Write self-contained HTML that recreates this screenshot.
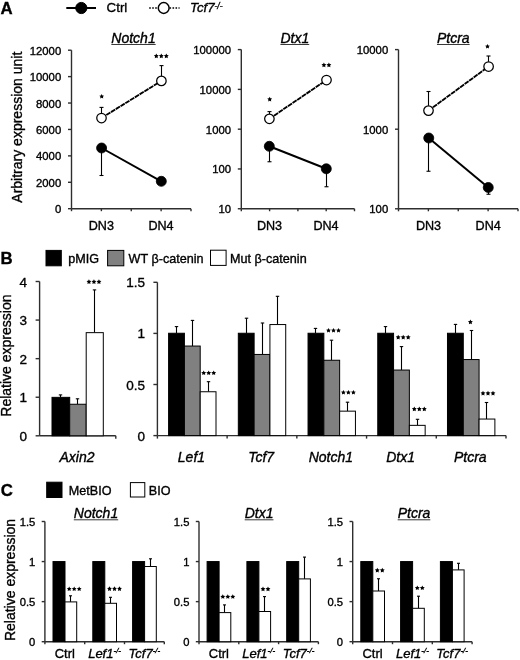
<!DOCTYPE html>
<html><head><meta charset="utf-8"><style>
html,body{margin:0;padding:0;background:#fff;}
svg{display:block;will-change:transform;}
text{font-family:"Liberation Sans", sans-serif;stroke:#000;stroke-width:0.35px;}
</style></head><body>
<svg width="520" height="660" viewBox="0 0 520 660">
<rect width="520" height="660" fill="#fff"/>
<text x="0.60" y="13.90" font-size="16.8" text-anchor="start" font-weight="bold" font-style="normal" fill="#000" >A</text>
<line x1="66.30" y1="8.00" x2="96.00" y2="8.00" stroke="#000" stroke-width="2" />
<circle cx="81.30" cy="8.00" r="5.6" fill="#000" stroke="#000" stroke-width="1"/>
<text x="106.60" y="12.00" font-size="13.3" text-anchor="start" font-weight="normal" font-style="normal" fill="#000" >Ctrl</text>
<line x1="149.20" y1="8.00" x2="158.00" y2="8.00" stroke="#000" stroke-width="1.6" stroke-dasharray="1.6,1.4"/>
<line x1="169.50" y1="8.00" x2="179.60" y2="8.00" stroke="#000" stroke-width="1.6" stroke-dasharray="1.6,1.4"/>
<circle cx="163.70" cy="8.00" r="5.4" fill="#fff" stroke="#000" stroke-width="1.5"/>
<text x="190.00" y="12.40" font-size="13.3" text-anchor="start" font-weight="normal" font-style="italic" fill="#000" >Tcf7</text>
<text x="214.50" y="8.50" font-size="8.5" text-anchor="start" font-weight="normal" font-style="italic" fill="#000" >-/-</text>
<line x1="71.50" y1="50.20" x2="71.50" y2="208.70" stroke="#2e2e2e" stroke-width="1.4" />
<line x1="68.00" y1="50.20" x2="71.50" y2="50.20" stroke="#2e2e2e" stroke-width="1.4" />
<text x="61.20" y="54.70" font-size="11.3" text-anchor="end" font-weight="normal" font-style="normal" fill="#000" >12000</text>
<line x1="68.00" y1="76.62" x2="71.50" y2="76.62" stroke="#2e2e2e" stroke-width="1.4" />
<text x="61.20" y="81.12" font-size="11.3" text-anchor="end" font-weight="normal" font-style="normal" fill="#000" >10000</text>
<line x1="68.00" y1="103.03" x2="71.50" y2="103.03" stroke="#2e2e2e" stroke-width="1.4" />
<text x="61.20" y="107.53" font-size="11.3" text-anchor="end" font-weight="normal" font-style="normal" fill="#000" >8000</text>
<line x1="68.00" y1="129.45" x2="71.50" y2="129.45" stroke="#2e2e2e" stroke-width="1.4" />
<text x="61.20" y="133.95" font-size="11.3" text-anchor="end" font-weight="normal" font-style="normal" fill="#000" >6000</text>
<line x1="68.00" y1="155.87" x2="71.50" y2="155.87" stroke="#2e2e2e" stroke-width="1.4" />
<text x="61.20" y="160.37" font-size="11.3" text-anchor="end" font-weight="normal" font-style="normal" fill="#000" >4000</text>
<line x1="68.00" y1="182.28" x2="71.50" y2="182.28" stroke="#2e2e2e" stroke-width="1.4" />
<text x="61.20" y="186.78" font-size="11.3" text-anchor="end" font-weight="normal" font-style="normal" fill="#000" >2000</text>
<line x1="68.00" y1="208.70" x2="71.50" y2="208.70" stroke="#2e2e2e" stroke-width="1.4" />
<text x="61.20" y="213.20" font-size="11.3" text-anchor="end" font-weight="normal" font-style="normal" fill="#000" >0</text>
<line x1="71.50" y1="208.70" x2="191.00" y2="208.70" stroke="#2e2e2e" stroke-width="1.4" />
<line x1="71.50" y1="208.70" x2="71.50" y2="211.20" stroke="#2e2e2e" stroke-width="1.4" />
<line x1="101.38" y1="208.70" x2="101.38" y2="211.20" stroke="#2e2e2e" stroke-width="1.4" />
<line x1="131.25" y1="208.70" x2="131.25" y2="211.20" stroke="#2e2e2e" stroke-width="1.4" />
<line x1="161.12" y1="208.70" x2="161.12" y2="211.20" stroke="#2e2e2e" stroke-width="1.4" />
<line x1="191.00" y1="208.70" x2="191.00" y2="211.20" stroke="#2e2e2e" stroke-width="1.4" />
<text x="101.30" y="230.20" font-size="12.6" text-anchor="middle" font-weight="normal" font-style="normal" fill="#000" >DN3</text>
<text x="161.00" y="230.20" font-size="12.6" text-anchor="middle" font-weight="normal" font-style="normal" fill="#000" >DN4</text>
<text x="133.50" y="42.60" font-size="14" text-anchor="middle" font-weight="normal" font-style="italic" fill="#000" >Notch1</text>
<line x1="111.32" y1="44.50" x2="155.68" y2="44.50" stroke="#222" stroke-width="0.9" />
<line x1="101.50" y1="148.00" x2="101.50" y2="175.50" stroke="#000" stroke-width="1.1" />
<line x1="99.50" y1="175.50" x2="103.50" y2="175.50" stroke="#000" stroke-width="1.1" />
<line x1="101.50" y1="118.00" x2="101.50" y2="107.40" stroke="#000" stroke-width="1.1" />
<line x1="99.50" y1="107.40" x2="103.50" y2="107.40" stroke="#000" stroke-width="1.1" />
<line x1="161.50" y1="80.90" x2="161.50" y2="65.60" stroke="#000" stroke-width="1.1" />
<line x1="159.50" y1="65.60" x2="163.50" y2="65.60" stroke="#000" stroke-width="1.1" />
<line x1="101.60" y1="148.00" x2="161.30" y2="181.30" stroke="#000" stroke-width="2.0" />
<line x1="101.50" y1="118.00" x2="161.40" y2="80.90" stroke="#000" stroke-width="1.85" stroke-dasharray="4.9,0.7"/>
<circle cx="101.60" cy="148.00" r="5.0" fill="#000" stroke="#000" stroke-width="0.8"/>
<circle cx="161.30" cy="181.30" r="5.0" fill="#000" stroke="#000" stroke-width="0.8"/>
<circle cx="101.50" cy="118.00" r="4.75" fill="#fff" stroke="#000" stroke-width="1.25"/>
<circle cx="161.40" cy="80.90" r="4.75" fill="#fff" stroke="#000" stroke-width="1.25"/>
<polygon points="101.70,93.90 102.46,95.40 104.13,95.66 102.94,96.85 103.20,98.51 101.70,97.75 100.20,98.51 100.46,96.85 99.27,95.66 100.94,95.40" fill="#000"/>
<polygon points="156.30,53.60 157.06,55.10 158.73,55.36 157.54,56.55 157.80,58.21 156.30,57.45 154.80,58.21 155.06,56.55 153.87,55.36 155.54,55.10" fill="#000"/>
<polygon points="161.30,53.60 162.06,55.10 163.73,55.36 162.54,56.55 162.80,58.21 161.30,57.45 159.80,58.21 160.06,56.55 158.87,55.36 160.54,55.10" fill="#000"/>
<polygon points="166.30,53.60 167.06,55.10 168.73,55.36 167.54,56.55 167.80,58.21 166.30,57.45 164.80,58.21 165.06,56.55 163.87,55.36 165.54,55.10" fill="#000"/>
<line x1="241.30" y1="49.60" x2="241.30" y2="208.75" stroke="#2e2e2e" stroke-width="1.4" />
<line x1="237.80" y1="49.60" x2="241.30" y2="49.60" stroke="#2e2e2e" stroke-width="1.4" />
<text x="231.00" y="54.10" font-size="11.3" text-anchor="end" font-weight="normal" font-style="normal" fill="#000" >100000</text>
<line x1="237.80" y1="89.39" x2="241.30" y2="89.39" stroke="#2e2e2e" stroke-width="1.4" />
<text x="231.00" y="93.89" font-size="11.3" text-anchor="end" font-weight="normal" font-style="normal" fill="#000" >10000</text>
<line x1="237.80" y1="129.18" x2="241.30" y2="129.18" stroke="#2e2e2e" stroke-width="1.4" />
<text x="231.00" y="133.68" font-size="11.3" text-anchor="end" font-weight="normal" font-style="normal" fill="#000" >1000</text>
<line x1="237.80" y1="168.96" x2="241.30" y2="168.96" stroke="#2e2e2e" stroke-width="1.4" />
<text x="231.00" y="173.46" font-size="11.3" text-anchor="end" font-weight="normal" font-style="normal" fill="#000" >100</text>
<line x1="237.80" y1="208.75" x2="241.30" y2="208.75" stroke="#2e2e2e" stroke-width="1.4" />
<text x="231.00" y="213.25" font-size="11.3" text-anchor="end" font-weight="normal" font-style="normal" fill="#000" >10</text>
<line x1="241.30" y1="208.75" x2="354.50" y2="208.75" stroke="#2e2e2e" stroke-width="1.4" />
<line x1="241.30" y1="208.75" x2="241.30" y2="211.25" stroke="#2e2e2e" stroke-width="1.4" />
<line x1="269.60" y1="208.75" x2="269.60" y2="211.25" stroke="#2e2e2e" stroke-width="1.4" />
<line x1="297.90" y1="208.75" x2="297.90" y2="211.25" stroke="#2e2e2e" stroke-width="1.4" />
<line x1="326.20" y1="208.75" x2="326.20" y2="211.25" stroke="#2e2e2e" stroke-width="1.4" />
<line x1="354.50" y1="208.75" x2="354.50" y2="211.25" stroke="#2e2e2e" stroke-width="1.4" />
<text x="269.50" y="230.20" font-size="12.6" text-anchor="middle" font-weight="normal" font-style="normal" fill="#000" >DN3</text>
<text x="326.00" y="230.20" font-size="12.6" text-anchor="middle" font-weight="normal" font-style="normal" fill="#000" >DN4</text>
<text x="294.80" y="42.60" font-size="14" text-anchor="middle" font-weight="normal" font-style="italic" fill="#000" >Dtx1</text>
<line x1="280.41" y1="44.50" x2="309.19" y2="44.50" stroke="#222" stroke-width="0.9" />
<line x1="269.50" y1="146.30" x2="269.50" y2="161.75" stroke="#000" stroke-width="1.1" />
<line x1="267.50" y1="161.75" x2="271.50" y2="161.75" stroke="#000" stroke-width="1.1" />
<line x1="326.50" y1="168.80" x2="326.50" y2="186.75" stroke="#000" stroke-width="1.1" />
<line x1="324.50" y1="186.75" x2="328.50" y2="186.75" stroke="#000" stroke-width="1.1" />
<line x1="269.50" y1="118.80" x2="269.50" y2="111.60" stroke="#000" stroke-width="1.1" />
<line x1="267.50" y1="111.60" x2="271.50" y2="111.60" stroke="#000" stroke-width="1.1" />
<line x1="269.30" y1="146.30" x2="326.30" y2="168.80" stroke="#000" stroke-width="2.0" />
<line x1="269.40" y1="118.80" x2="326.50" y2="80.00" stroke="#000" stroke-width="1.85" stroke-dasharray="4.9,0.7"/>
<circle cx="269.30" cy="146.30" r="5.0" fill="#000" stroke="#000" stroke-width="0.8"/>
<circle cx="326.30" cy="168.80" r="5.0" fill="#000" stroke="#000" stroke-width="0.8"/>
<circle cx="269.40" cy="118.80" r="4.75" fill="#fff" stroke="#000" stroke-width="1.25"/>
<circle cx="326.50" cy="80.00" r="4.75" fill="#fff" stroke="#000" stroke-width="1.25"/>
<polygon points="269.70,96.80 270.46,98.30 272.13,98.56 270.94,99.75 271.20,101.41 269.70,100.65 268.20,101.41 268.46,99.75 267.27,98.56 268.94,98.30" fill="#000"/>
<polygon points="323.90,62.60 324.66,64.10 326.33,64.36 325.14,65.55 325.40,67.21 323.90,66.45 322.40,67.21 322.66,65.55 321.47,64.36 323.14,64.10" fill="#000"/>
<polygon points="328.90,62.60 329.66,64.10 331.33,64.36 330.14,65.55 330.40,67.21 328.90,66.45 327.40,67.21 327.66,65.55 326.47,64.36 328.14,64.10" fill="#000"/>
<line x1="398.50" y1="49.60" x2="398.50" y2="208.80" stroke="#2e2e2e" stroke-width="1.4" />
<line x1="395.00" y1="49.60" x2="398.50" y2="49.60" stroke="#2e2e2e" stroke-width="1.4" />
<text x="388.20" y="54.10" font-size="11.3" text-anchor="end" font-weight="normal" font-style="normal" fill="#000" >10000</text>
<line x1="395.00" y1="129.20" x2="398.50" y2="129.20" stroke="#2e2e2e" stroke-width="1.4" />
<text x="388.20" y="133.70" font-size="11.3" text-anchor="end" font-weight="normal" font-style="normal" fill="#000" >1000</text>
<line x1="395.00" y1="208.80" x2="398.50" y2="208.80" stroke="#2e2e2e" stroke-width="1.4" />
<text x="388.20" y="213.30" font-size="11.3" text-anchor="end" font-weight="normal" font-style="normal" fill="#000" >100</text>
<line x1="398.50" y1="208.80" x2="518.00" y2="208.80" stroke="#2e2e2e" stroke-width="1.4" />
<line x1="398.50" y1="208.80" x2="398.50" y2="211.30" stroke="#2e2e2e" stroke-width="1.4" />
<line x1="428.38" y1="208.80" x2="428.38" y2="211.30" stroke="#2e2e2e" stroke-width="1.4" />
<line x1="458.25" y1="208.80" x2="458.25" y2="211.30" stroke="#2e2e2e" stroke-width="1.4" />
<line x1="488.12" y1="208.80" x2="488.12" y2="211.30" stroke="#2e2e2e" stroke-width="1.4" />
<line x1="518.00" y1="208.80" x2="518.00" y2="211.30" stroke="#2e2e2e" stroke-width="1.4" />
<text x="428.50" y="230.20" font-size="12.6" text-anchor="middle" font-weight="normal" font-style="normal" fill="#000" >DN3</text>
<text x="488.20" y="230.20" font-size="12.6" text-anchor="middle" font-weight="normal" font-style="normal" fill="#000" >DN4</text>
<text x="453.30" y="42.60" font-size="14" text-anchor="middle" font-weight="normal" font-style="italic" fill="#000" >Ptcra</text>
<line x1="436.96" y1="44.50" x2="469.64" y2="44.50" stroke="#222" stroke-width="0.9" />
<line x1="428.50" y1="138.00" x2="428.50" y2="171.25" stroke="#000" stroke-width="1.1" />
<line x1="426.50" y1="171.25" x2="430.50" y2="171.25" stroke="#000" stroke-width="1.1" />
<line x1="488.50" y1="187.50" x2="488.50" y2="194.25" stroke="#000" stroke-width="1.1" />
<line x1="486.50" y1="194.25" x2="490.50" y2="194.25" stroke="#000" stroke-width="1.1" />
<line x1="428.50" y1="110.60" x2="428.50" y2="91.50" stroke="#000" stroke-width="1.1" />
<line x1="426.50" y1="91.50" x2="430.50" y2="91.50" stroke="#000" stroke-width="1.1" />
<line x1="488.50" y1="66.50" x2="488.50" y2="56.00" stroke="#000" stroke-width="1.1" />
<line x1="486.50" y1="56.00" x2="490.50" y2="56.00" stroke="#000" stroke-width="1.1" />
<line x1="428.75" y1="138.00" x2="488.25" y2="187.50" stroke="#000" stroke-width="2.0" />
<line x1="428.50" y1="110.60" x2="488.60" y2="66.50" stroke="#000" stroke-width="1.85" stroke-dasharray="4.9,0.7"/>
<circle cx="428.75" cy="138.00" r="5.0" fill="#000" stroke="#000" stroke-width="0.8"/>
<circle cx="488.25" cy="187.50" r="5.0" fill="#000" stroke="#000" stroke-width="0.8"/>
<circle cx="428.50" cy="110.60" r="4.75" fill="#fff" stroke="#000" stroke-width="1.25"/>
<circle cx="488.60" cy="66.50" r="4.75" fill="#fff" stroke="#000" stroke-width="1.25"/>
<polygon points="487.50,43.90 488.26,45.40 489.93,45.66 488.74,46.85 489.00,48.51 487.50,47.75 486.00,48.51 486.26,46.85 485.07,45.66 486.74,45.40" fill="#000"/>
<text transform="translate(21.8,127.2) rotate(-90)" font-size="14" text-anchor="middle" fill="#000">Arbitrary expression unit</text>
<text x="0.60" y="264.20" font-size="16.8" text-anchor="start" font-weight="bold" font-style="normal" fill="#000" >B</text>
<rect x="46.00" y="250.40" width="15.30" height="15.40" fill="#000" stroke="#000" stroke-width="1"/>
<text x="68.20" y="262.60" font-size="12.6" text-anchor="start" font-weight="normal" font-style="normal" fill="#000" >pMIG</text>
<rect x="107.60" y="250.40" width="16.20" height="15.40" fill="#808080" stroke="#000" stroke-width="1"/>
<text x="128.60" y="262.60" font-size="12.6" text-anchor="start" font-weight="normal" font-style="normal" fill="#000" >WT &#946;-catenin</text>
<rect x="210.50" y="250.20" width="15.60" height="15.20" fill="#fff" stroke="#000" stroke-width="1"/>
<text x="230.10" y="262.60" font-size="12.6" text-anchor="start" font-weight="normal" font-style="normal" fill="#000" >Mut &#946;-catenin</text>
<line x1="39.60" y1="281.50" x2="39.60" y2="435.80" stroke="#2e2e2e" stroke-width="1.4" />
<line x1="35.60" y1="281.50" x2="39.60" y2="281.50" stroke="#2e2e2e" stroke-width="1.4" />
<text x="27.10" y="286.50" font-size="13.5" text-anchor="end" font-weight="normal" font-style="normal" fill="#000" >4</text>
<line x1="35.60" y1="320.07" x2="39.60" y2="320.07" stroke="#2e2e2e" stroke-width="1.4" />
<text x="27.10" y="325.07" font-size="13.5" text-anchor="end" font-weight="normal" font-style="normal" fill="#000" >3</text>
<line x1="35.60" y1="358.65" x2="39.60" y2="358.65" stroke="#2e2e2e" stroke-width="1.4" />
<text x="27.10" y="363.65" font-size="13.5" text-anchor="end" font-weight="normal" font-style="normal" fill="#000" >2</text>
<line x1="35.60" y1="397.23" x2="39.60" y2="397.23" stroke="#2e2e2e" stroke-width="1.4" />
<text x="27.10" y="402.23" font-size="13.5" text-anchor="end" font-weight="normal" font-style="normal" fill="#000" >1</text>
<line x1="35.60" y1="435.80" x2="39.60" y2="435.80" stroke="#2e2e2e" stroke-width="1.4" />
<text x="27.10" y="440.80" font-size="13.5" text-anchor="end" font-weight="normal" font-style="normal" fill="#000" >0</text>
<line x1="39.60" y1="435.80" x2="115.80" y2="435.80" stroke="#2e2e2e" stroke-width="1.4" />
<line x1="115.80" y1="435.80" x2="115.80" y2="438.80" stroke="#2e2e2e" stroke-width="1.4" />
<line x1="60.50" y1="397.35" x2="60.50" y2="394.90" stroke="#000" stroke-width="1.1" />
<line x1="58.80" y1="394.90" x2="62.20" y2="394.90" stroke="#000" stroke-width="1.1" />
<rect x="52.00" y="397.35" width="17.70" height="38.45" fill="#000" stroke="#000" stroke-width="1"/>
<line x1="77.50" y1="404.25" x2="77.50" y2="398.80" stroke="#000" stroke-width="1.1" />
<line x1="75.80" y1="398.80" x2="79.20" y2="398.80" stroke="#000" stroke-width="1.1" />
<rect x="69.70" y="404.25" width="16.50" height="31.55" fill="#808080" stroke="#000" stroke-width="1"/>
<line x1="94.50" y1="332.65" x2="94.50" y2="289.90" stroke="#000" stroke-width="1.1" />
<line x1="92.80" y1="289.90" x2="96.20" y2="289.90" stroke="#000" stroke-width="1.1" />
<rect x="86.20" y="332.65" width="17.10" height="103.15" fill="#fff" stroke="#000" stroke-width="1"/>
<polygon points="88.95,279.30 89.71,280.80 91.38,281.06 90.19,282.25 90.45,283.91 88.95,283.15 87.45,283.91 87.71,282.25 86.52,281.06 88.19,280.80" fill="#000"/>
<polygon points="93.95,279.30 94.71,280.80 96.38,281.06 95.19,282.25 95.45,283.91 93.95,283.15 92.45,283.91 92.71,282.25 91.52,281.06 93.19,280.80" fill="#000"/>
<polygon points="98.95,279.30 99.71,280.80 101.38,281.06 100.19,282.25 100.45,283.91 98.95,283.15 97.45,283.91 97.71,282.25 96.52,281.06 98.19,280.80" fill="#000"/>
<text x="77.00" y="462.00" font-size="14" text-anchor="middle" font-weight="normal" font-style="italic" fill="#000" >Axin2</text>
<text transform="translate(10.9,355.6) rotate(-90)" font-size="14" text-anchor="middle" fill="#000">Relative expression</text>
<line x1="157.40" y1="282.30" x2="157.40" y2="435.60" stroke="#2e2e2e" stroke-width="1.4" />
<line x1="153.40" y1="282.30" x2="157.40" y2="282.30" stroke="#2e2e2e" stroke-width="1.4" />
<text x="145.10" y="287.30" font-size="13.5" text-anchor="end" font-weight="normal" font-style="normal" fill="#000" >1.5</text>
<line x1="153.40" y1="333.40" x2="157.40" y2="333.40" stroke="#2e2e2e" stroke-width="1.4" />
<text x="145.10" y="338.40" font-size="13.5" text-anchor="end" font-weight="normal" font-style="normal" fill="#000" >1</text>
<line x1="153.40" y1="384.50" x2="157.40" y2="384.50" stroke="#2e2e2e" stroke-width="1.4" />
<text x="145.10" y="389.50" font-size="13.5" text-anchor="end" font-weight="normal" font-style="normal" fill="#000" >0.5</text>
<line x1="153.40" y1="435.60" x2="157.40" y2="435.60" stroke="#2e2e2e" stroke-width="1.4" />
<text x="145.10" y="440.60" font-size="13.5" text-anchor="end" font-weight="normal" font-style="normal" fill="#000" >0</text>
<line x1="157.40" y1="435.60" x2="506.00" y2="435.60" stroke="#2e2e2e" stroke-width="1.4" />
<line x1="157.40" y1="435.60" x2="157.40" y2="438.60" stroke="#2e2e2e" stroke-width="1.4" />
<line x1="227.12" y1="435.60" x2="227.12" y2="438.60" stroke="#2e2e2e" stroke-width="1.4" />
<line x1="296.84" y1="435.60" x2="296.84" y2="438.60" stroke="#2e2e2e" stroke-width="1.4" />
<line x1="366.56" y1="435.60" x2="366.56" y2="438.60" stroke="#2e2e2e" stroke-width="1.4" />
<line x1="436.28" y1="435.60" x2="436.28" y2="438.60" stroke="#2e2e2e" stroke-width="1.4" />
<line x1="506.00" y1="435.60" x2="506.00" y2="438.60" stroke="#2e2e2e" stroke-width="1.4" />
<line x1="176.50" y1="333.25" x2="176.50" y2="326.60" stroke="#000" stroke-width="1.1" />
<line x1="174.80" y1="326.60" x2="178.20" y2="326.60" stroke="#000" stroke-width="1.1" />
<rect x="168.60" y="333.25" width="15.80" height="102.35" fill="#000" stroke="#000" stroke-width="1"/>
<line x1="192.50" y1="346.05" x2="192.50" y2="320.40" stroke="#000" stroke-width="1.1" />
<line x1="190.80" y1="320.40" x2="194.20" y2="320.40" stroke="#000" stroke-width="1.1" />
<rect x="184.40" y="346.05" width="15.80" height="89.55" fill="#808080" stroke="#000" stroke-width="1"/>
<line x1="208.50" y1="391.75" x2="208.50" y2="381.70" stroke="#000" stroke-width="1.1" />
<line x1="206.80" y1="381.70" x2="210.20" y2="381.70" stroke="#000" stroke-width="1.1" />
<rect x="200.20" y="391.75" width="15.80" height="43.85" fill="#fff" stroke="#000" stroke-width="1"/>
<polygon points="203.70,370.50 204.46,372.00 206.13,372.26 204.94,373.45 205.20,375.11 203.70,374.35 202.20,375.11 202.46,373.45 201.27,372.26 202.94,372.00" fill="#000"/>
<polygon points="208.70,370.50 209.46,372.00 211.13,372.26 209.94,373.45 210.20,375.11 208.70,374.35 207.20,375.11 207.46,373.45 206.27,372.26 207.94,372.00" fill="#000"/>
<polygon points="213.70,370.50 214.46,372.00 216.13,372.26 214.94,373.45 215.20,375.11 213.70,374.35 212.20,375.11 212.46,373.45 211.27,372.26 212.94,372.00" fill="#000"/>
<text x="191.46" y="462.00" font-size="14" text-anchor="middle" font-weight="normal" font-style="italic" fill="#000" >Lef1</text>
<line x1="246.50" y1="333.25" x2="246.50" y2="318.20" stroke="#000" stroke-width="1.1" />
<line x1="244.80" y1="318.20" x2="248.20" y2="318.20" stroke="#000" stroke-width="1.1" />
<rect x="238.32" y="333.25" width="15.80" height="102.35" fill="#000" stroke="#000" stroke-width="1"/>
<line x1="262.50" y1="354.45" x2="262.50" y2="323.00" stroke="#000" stroke-width="1.1" />
<line x1="260.80" y1="323.00" x2="264.20" y2="323.00" stroke="#000" stroke-width="1.1" />
<rect x="254.12" y="354.45" width="15.80" height="81.15" fill="#808080" stroke="#000" stroke-width="1"/>
<line x1="277.50" y1="324.55" x2="277.50" y2="296.30" stroke="#000" stroke-width="1.1" />
<line x1="275.80" y1="296.30" x2="279.20" y2="296.30" stroke="#000" stroke-width="1.1" />
<rect x="269.92" y="324.55" width="15.80" height="111.05" fill="#fff" stroke="#000" stroke-width="1"/>
<text x="261.18" y="462.00" font-size="14" text-anchor="middle" font-weight="normal" font-style="italic" fill="#000" >Tcf7</text>
<line x1="315.50" y1="333.25" x2="315.50" y2="328.40" stroke="#000" stroke-width="1.1" />
<line x1="313.80" y1="328.40" x2="317.20" y2="328.40" stroke="#000" stroke-width="1.1" />
<rect x="308.04" y="333.25" width="15.80" height="102.35" fill="#000" stroke="#000" stroke-width="1"/>
<line x1="331.50" y1="360.25" x2="331.50" y2="340.20" stroke="#000" stroke-width="1.1" />
<line x1="329.80" y1="340.20" x2="333.20" y2="340.20" stroke="#000" stroke-width="1.1" />
<rect x="323.84" y="360.25" width="15.80" height="75.35" fill="#808080" stroke="#000" stroke-width="1"/>
<polygon points="328.50,327.90 329.26,329.40 330.93,329.66 329.74,330.85 330.00,332.51 328.50,331.75 327.00,332.51 327.26,330.85 326.07,329.66 327.74,329.40" fill="#000"/>
<polygon points="333.50,327.90 334.26,329.40 335.93,329.66 334.74,330.85 335.00,332.51 333.50,331.75 332.00,332.51 332.26,330.85 331.07,329.66 332.74,329.40" fill="#000"/>
<polygon points="338.50,327.90 339.26,329.40 340.93,329.66 339.74,330.85 340.00,332.51 338.50,331.75 337.00,332.51 337.26,330.85 336.07,329.66 337.74,329.40" fill="#000"/>
<line x1="347.50" y1="411.15" x2="347.50" y2="402.20" stroke="#000" stroke-width="1.1" />
<line x1="345.80" y1="402.20" x2="349.20" y2="402.20" stroke="#000" stroke-width="1.1" />
<rect x="339.64" y="411.15" width="15.80" height="24.45" fill="#fff" stroke="#000" stroke-width="1"/>
<polygon points="343.40,389.90 344.16,391.40 345.83,391.66 344.64,392.85 344.90,394.51 343.40,393.75 341.90,394.51 342.16,392.85 340.97,391.66 342.64,391.40" fill="#000"/>
<polygon points="348.40,389.90 349.16,391.40 350.83,391.66 349.64,392.85 349.90,394.51 348.40,393.75 346.90,394.51 347.16,392.85 345.97,391.66 347.64,391.40" fill="#000"/>
<polygon points="353.40,389.90 354.16,391.40 355.83,391.66 354.64,392.85 354.90,394.51 353.40,393.75 351.90,394.51 352.16,392.85 350.97,391.66 352.64,391.40" fill="#000"/>
<text x="330.90" y="462.00" font-size="14" text-anchor="middle" font-weight="normal" font-style="italic" fill="#000" >Notch1</text>
<line x1="385.50" y1="333.25" x2="385.50" y2="326.60" stroke="#000" stroke-width="1.1" />
<line x1="383.80" y1="326.60" x2="387.20" y2="326.60" stroke="#000" stroke-width="1.1" />
<rect x="377.76" y="333.25" width="15.80" height="102.35" fill="#000" stroke="#000" stroke-width="1"/>
<line x1="401.50" y1="370.05" x2="401.50" y2="346.60" stroke="#000" stroke-width="1.1" />
<line x1="399.80" y1="346.60" x2="403.20" y2="346.60" stroke="#000" stroke-width="1.1" />
<rect x="393.56" y="370.05" width="15.80" height="65.55" fill="#808080" stroke="#000" stroke-width="1"/>
<polygon points="398.20,334.80 398.96,336.30 400.63,336.56 399.44,337.75 399.70,339.41 398.20,338.65 396.70,339.41 396.96,337.75 395.77,336.56 397.44,336.30" fill="#000"/>
<polygon points="403.20,334.80 403.96,336.30 405.63,336.56 404.44,337.75 404.70,339.41 403.20,338.65 401.70,339.41 401.96,337.75 400.77,336.56 402.44,336.30" fill="#000"/>
<polygon points="408.20,334.80 408.96,336.30 410.63,336.56 409.44,337.75 409.70,339.41 408.20,338.65 406.70,339.41 406.96,337.75 405.77,336.56 407.44,336.30" fill="#000"/>
<line x1="417.50" y1="425.35" x2="417.50" y2="419.30" stroke="#000" stroke-width="1.1" />
<line x1="415.80" y1="419.30" x2="419.20" y2="419.30" stroke="#000" stroke-width="1.1" />
<rect x="409.36" y="425.35" width="15.80" height="10.25" fill="#fff" stroke="#000" stroke-width="1"/>
<polygon points="414.30,406.60 415.06,408.10 416.73,408.36 415.54,409.55 415.80,411.21 414.30,410.45 412.80,411.21 413.06,409.55 411.87,408.36 413.54,408.10" fill="#000"/>
<polygon points="419.30,406.60 420.06,408.10 421.73,408.36 420.54,409.55 420.80,411.21 419.30,410.45 417.80,411.21 418.06,409.55 416.87,408.36 418.54,408.10" fill="#000"/>
<polygon points="424.30,406.60 425.06,408.10 426.73,408.36 425.54,409.55 425.80,411.21 424.30,410.45 422.80,411.21 423.06,409.55 421.87,408.36 423.54,408.10" fill="#000"/>
<text x="400.62" y="462.00" font-size="14" text-anchor="middle" font-weight="normal" font-style="italic" fill="#000" >Dtx1</text>
<line x1="455.50" y1="333.25" x2="455.50" y2="324.40" stroke="#000" stroke-width="1.1" />
<line x1="453.80" y1="324.40" x2="457.20" y2="324.40" stroke="#000" stroke-width="1.1" />
<rect x="447.48" y="333.25" width="15.80" height="102.35" fill="#000" stroke="#000" stroke-width="1"/>
<line x1="471.50" y1="359.55" x2="471.50" y2="330.50" stroke="#000" stroke-width="1.1" />
<line x1="469.80" y1="330.50" x2="473.20" y2="330.50" stroke="#000" stroke-width="1.1" />
<rect x="463.28" y="359.55" width="15.80" height="76.05" fill="#808080" stroke="#000" stroke-width="1"/>
<polygon points="470.40,319.60 471.16,321.10 472.83,321.36 471.64,322.55 471.90,324.21 470.40,323.45 468.90,324.21 469.16,322.55 467.97,321.36 469.64,321.10" fill="#000"/>
<line x1="486.50" y1="419.05" x2="486.50" y2="402.50" stroke="#000" stroke-width="1.1" />
<line x1="484.80" y1="402.50" x2="488.20" y2="402.50" stroke="#000" stroke-width="1.1" />
<rect x="479.08" y="419.05" width="15.80" height="16.55" fill="#fff" stroke="#000" stroke-width="1"/>
<polygon points="483.00,390.80 483.76,392.30 485.43,392.56 484.24,393.75 484.50,395.41 483.00,394.65 481.50,395.41 481.76,393.75 480.57,392.56 482.24,392.30" fill="#000"/>
<polygon points="488.00,390.80 488.76,392.30 490.43,392.56 489.24,393.75 489.50,395.41 488.00,394.65 486.50,395.41 486.76,393.75 485.57,392.56 487.24,392.30" fill="#000"/>
<polygon points="493.00,390.80 493.76,392.30 495.43,392.56 494.24,393.75 494.50,395.41 493.00,394.65 491.50,395.41 491.76,393.75 490.57,392.56 492.24,392.30" fill="#000"/>
<text x="470.34" y="462.00" font-size="14" text-anchor="middle" font-weight="normal" font-style="italic" fill="#000" >Ptcra</text>
<text x="0.80" y="495.80" font-size="16.8" text-anchor="start" font-weight="bold" font-style="normal" fill="#000" >C</text>
<rect x="46.70" y="482.20" width="15.30" height="15.30" fill="#000" stroke="#000" stroke-width="1"/>
<text x="68.80" y="495.30" font-size="12.6" text-anchor="start" font-weight="normal" font-style="normal" fill="#000" >MetBIO</text>
<rect x="130.40" y="482.60" width="14.40" height="14.40" fill="#fff" stroke="#000" stroke-width="1"/>
<text x="148.80" y="495.30" font-size="12.6" text-anchor="start" font-weight="normal" font-style="normal" fill="#000" >BIO</text>
<text transform="translate(14.6,580.0) rotate(-90)" font-size="14" text-anchor="middle" fill="#000">Relative expression</text>
<line x1="44.90" y1="521.50" x2="44.90" y2="641.70" stroke="#2e2e2e" stroke-width="1.4" />
<line x1="41.70" y1="521.50" x2="44.90" y2="521.50" stroke="#2e2e2e" stroke-width="1.4" />
<text x="35.30" y="525.50" font-size="11.2" text-anchor="end" font-weight="normal" font-style="normal" fill="#000" >1.5</text>
<line x1="41.70" y1="561.57" x2="44.90" y2="561.57" stroke="#2e2e2e" stroke-width="1.4" />
<text x="35.30" y="565.57" font-size="11.2" text-anchor="end" font-weight="normal" font-style="normal" fill="#000" >1</text>
<line x1="41.70" y1="601.63" x2="44.90" y2="601.63" stroke="#2e2e2e" stroke-width="1.4" />
<text x="35.30" y="605.63" font-size="11.2" text-anchor="end" font-weight="normal" font-style="normal" fill="#000" >0.5</text>
<line x1="41.70" y1="641.70" x2="44.90" y2="641.70" stroke="#2e2e2e" stroke-width="1.4" />
<text x="35.30" y="645.70" font-size="11.2" text-anchor="end" font-weight="normal" font-style="normal" fill="#000" >0</text>
<line x1="44.90" y1="641.70" x2="164.30" y2="641.70" stroke="#2e2e2e" stroke-width="1.4" />
<line x1="44.90" y1="641.70" x2="44.90" y2="644.20" stroke="#2e2e2e" stroke-width="1.4" />
<line x1="84.70" y1="641.70" x2="84.70" y2="644.20" stroke="#2e2e2e" stroke-width="1.4" />
<line x1="124.50" y1="641.70" x2="124.50" y2="644.20" stroke="#2e2e2e" stroke-width="1.4" />
<line x1="164.30" y1="641.70" x2="164.30" y2="644.20" stroke="#2e2e2e" stroke-width="1.4" />
<text x="96.00" y="518.30" font-size="14" text-anchor="middle" font-weight="normal" font-style="italic" fill="#000" >Notch1</text>
<line x1="73.82" y1="519.80" x2="118.18" y2="519.80" stroke="#222" stroke-width="0.9" />
<rect x="53.00" y="561.57" width="12.00" height="80.13" fill="#000" stroke="#000" stroke-width="1"/>
<line x1="70.50" y1="601.90" x2="70.50" y2="595.80" stroke="#000" stroke-width="1.1" />
<line x1="69.00" y1="595.80" x2="72.00" y2="595.80" stroke="#000" stroke-width="1.1" />
<rect x="65.00" y="601.90" width="11.70" height="39.80" fill="#fff" stroke="#000" stroke-width="1"/>
<polygon points="69.20,586.40 69.96,587.90 71.63,588.16 70.44,589.35 70.70,591.01 69.20,590.25 67.70,591.01 67.96,589.35 66.77,588.16 68.44,587.90" fill="#000"/>
<polygon points="74.20,586.40 74.96,587.90 76.63,588.16 75.44,589.35 75.70,591.01 74.20,590.25 72.70,591.01 72.96,589.35 71.77,588.16 73.44,587.90" fill="#000"/>
<polygon points="79.20,586.40 79.96,587.90 81.63,588.16 80.44,589.35 80.70,591.01 79.20,590.25 77.70,591.01 77.96,589.35 76.77,588.16 78.44,587.90" fill="#000"/>
<text x="64.80" y="657.80" font-size="13" text-anchor="middle" font-weight="normal" font-style="normal" fill="#000" >Ctrl</text>
<rect x="92.80" y="561.57" width="12.00" height="80.13" fill="#000" stroke="#000" stroke-width="1"/>
<line x1="110.50" y1="603.30" x2="110.50" y2="597.30" stroke="#000" stroke-width="1.1" />
<line x1="109.00" y1="597.30" x2="112.00" y2="597.30" stroke="#000" stroke-width="1.1" />
<rect x="104.80" y="603.30" width="11.70" height="38.40" fill="#fff" stroke="#000" stroke-width="1"/>
<polygon points="109.50,586.35 110.26,587.85 111.93,588.11 110.74,589.30 111.00,590.96 109.50,590.20 108.00,590.96 108.26,589.30 107.07,588.11 108.74,587.85" fill="#000"/>
<polygon points="114.50,586.35 115.26,587.85 116.93,588.11 115.74,589.30 116.00,590.96 114.50,590.20 113.00,590.96 113.26,589.30 112.07,588.11 113.74,587.85" fill="#000"/>
<polygon points="119.50,586.35 120.26,587.85 121.93,588.11 120.74,589.30 121.00,590.96 119.50,590.20 118.00,590.96 118.26,589.30 117.07,588.11 118.74,587.85" fill="#000"/>
<text x="104.60" y="657.80" font-size="13" text-anchor="middle" font-weight="normal" font-style="normal" fill="#000" ><tspan font-style="italic">Lef1</tspan><tspan font-size="8" font-style="italic" dy="-4.5">-/-</tspan></text>
<rect x="132.60" y="561.57" width="12.00" height="80.13" fill="#000" stroke="#000" stroke-width="1"/>
<line x1="150.50" y1="566.50" x2="150.50" y2="558.80" stroke="#000" stroke-width="1.1" />
<line x1="149.00" y1="558.80" x2="152.00" y2="558.80" stroke="#000" stroke-width="1.1" />
<rect x="144.60" y="566.50" width="11.70" height="75.20" fill="#fff" stroke="#000" stroke-width="1"/>
<text x="144.40" y="657.80" font-size="13" text-anchor="middle" font-weight="normal" font-style="normal" fill="#000" ><tspan font-style="italic">Tcf7</tspan><tspan font-size="8" font-style="italic" dy="-4.5">-/-</tspan></text>
<line x1="199.00" y1="521.50" x2="199.00" y2="641.70" stroke="#2e2e2e" stroke-width="1.4" />
<line x1="195.80" y1="521.50" x2="199.00" y2="521.50" stroke="#2e2e2e" stroke-width="1.4" />
<text x="189.40" y="525.50" font-size="11.2" text-anchor="end" font-weight="normal" font-style="normal" fill="#000" >1.5</text>
<line x1="195.80" y1="561.57" x2="199.00" y2="561.57" stroke="#2e2e2e" stroke-width="1.4" />
<text x="189.40" y="565.57" font-size="11.2" text-anchor="end" font-weight="normal" font-style="normal" fill="#000" >1</text>
<line x1="195.80" y1="601.63" x2="199.00" y2="601.63" stroke="#2e2e2e" stroke-width="1.4" />
<text x="189.40" y="605.63" font-size="11.2" text-anchor="end" font-weight="normal" font-style="normal" fill="#000" >0.5</text>
<line x1="195.80" y1="641.70" x2="199.00" y2="641.70" stroke="#2e2e2e" stroke-width="1.4" />
<text x="189.40" y="645.70" font-size="11.2" text-anchor="end" font-weight="normal" font-style="normal" fill="#000" >0</text>
<line x1="199.00" y1="641.70" x2="318.40" y2="641.70" stroke="#2e2e2e" stroke-width="1.4" />
<line x1="199.00" y1="641.70" x2="199.00" y2="644.20" stroke="#2e2e2e" stroke-width="1.4" />
<line x1="238.80" y1="641.70" x2="238.80" y2="644.20" stroke="#2e2e2e" stroke-width="1.4" />
<line x1="278.60" y1="641.70" x2="278.60" y2="644.20" stroke="#2e2e2e" stroke-width="1.4" />
<line x1="318.40" y1="641.70" x2="318.40" y2="644.20" stroke="#2e2e2e" stroke-width="1.4" />
<text x="259.10" y="518.30" font-size="14" text-anchor="middle" font-weight="normal" font-style="italic" fill="#000" >Dtx1</text>
<line x1="244.71" y1="519.80" x2="273.49" y2="519.80" stroke="#222" stroke-width="0.9" />
<rect x="207.10" y="561.57" width="12.00" height="80.13" fill="#000" stroke="#000" stroke-width="1"/>
<line x1="224.50" y1="612.60" x2="224.50" y2="604.90" stroke="#000" stroke-width="1.1" />
<line x1="223.00" y1="604.90" x2="226.00" y2="604.90" stroke="#000" stroke-width="1.1" />
<rect x="219.10" y="612.60" width="11.70" height="29.10" fill="#fff" stroke="#000" stroke-width="1"/>
<polygon points="222.80,594.20 223.56,595.70 225.23,595.96 224.04,597.15 224.30,598.81 222.80,598.05 221.30,598.81 221.56,597.15 220.37,595.96 222.04,595.70" fill="#000"/>
<polygon points="227.80,594.20 228.56,595.70 230.23,595.96 229.04,597.15 229.30,598.81 227.80,598.05 226.30,598.81 226.56,597.15 225.37,595.96 227.04,595.70" fill="#000"/>
<polygon points="232.80,594.20 233.56,595.70 235.23,595.96 234.04,597.15 234.30,598.81 232.80,598.05 231.30,598.81 231.56,597.15 230.37,595.96 232.04,595.70" fill="#000"/>
<text x="218.90" y="657.80" font-size="13" text-anchor="middle" font-weight="normal" font-style="normal" fill="#000" >Ctrl</text>
<rect x="246.90" y="561.57" width="12.00" height="80.13" fill="#000" stroke="#000" stroke-width="1"/>
<line x1="264.50" y1="611.50" x2="264.50" y2="596.60" stroke="#000" stroke-width="1.1" />
<line x1="263.00" y1="596.60" x2="266.00" y2="596.60" stroke="#000" stroke-width="1.1" />
<rect x="258.90" y="611.50" width="11.70" height="30.20" fill="#fff" stroke="#000" stroke-width="1"/>
<polygon points="263.00,586.55 263.76,588.05 265.43,588.31 264.24,589.50 264.50,591.16 263.00,590.40 261.50,591.16 261.76,589.50 260.57,588.31 262.24,588.05" fill="#000"/>
<polygon points="268.00,586.55 268.76,588.05 270.43,588.31 269.24,589.50 269.50,591.16 268.00,590.40 266.50,591.16 266.76,589.50 265.57,588.31 267.24,588.05" fill="#000"/>
<text x="258.70" y="657.80" font-size="13" text-anchor="middle" font-weight="normal" font-style="normal" fill="#000" ><tspan font-style="italic">Lef1</tspan><tspan font-size="8" font-style="italic" dy="-4.5">-/-</tspan></text>
<rect x="286.70" y="561.57" width="12.00" height="80.13" fill="#000" stroke="#000" stroke-width="1"/>
<line x1="304.50" y1="578.90" x2="304.50" y2="557.10" stroke="#000" stroke-width="1.1" />
<line x1="303.00" y1="557.10" x2="306.00" y2="557.10" stroke="#000" stroke-width="1.1" />
<rect x="298.70" y="578.90" width="11.70" height="62.80" fill="#fff" stroke="#000" stroke-width="1"/>
<text x="298.50" y="657.80" font-size="13" text-anchor="middle" font-weight="normal" font-style="normal" fill="#000" ><tspan font-style="italic">Tcf7</tspan><tspan font-size="8" font-style="italic" dy="-4.5">-/-</tspan></text>
<line x1="352.70" y1="521.50" x2="352.70" y2="641.70" stroke="#2e2e2e" stroke-width="1.4" />
<line x1="349.50" y1="521.50" x2="352.70" y2="521.50" stroke="#2e2e2e" stroke-width="1.4" />
<text x="343.10" y="525.50" font-size="11.2" text-anchor="end" font-weight="normal" font-style="normal" fill="#000" >1.5</text>
<line x1="349.50" y1="561.57" x2="352.70" y2="561.57" stroke="#2e2e2e" stroke-width="1.4" />
<text x="343.10" y="565.57" font-size="11.2" text-anchor="end" font-weight="normal" font-style="normal" fill="#000" >1</text>
<line x1="349.50" y1="601.63" x2="352.70" y2="601.63" stroke="#2e2e2e" stroke-width="1.4" />
<text x="343.10" y="605.63" font-size="11.2" text-anchor="end" font-weight="normal" font-style="normal" fill="#000" >0.5</text>
<line x1="349.50" y1="641.70" x2="352.70" y2="641.70" stroke="#2e2e2e" stroke-width="1.4" />
<text x="343.10" y="645.70" font-size="11.2" text-anchor="end" font-weight="normal" font-style="normal" fill="#000" >0</text>
<line x1="352.70" y1="641.70" x2="472.10" y2="641.70" stroke="#2e2e2e" stroke-width="1.4" />
<line x1="352.70" y1="641.70" x2="352.70" y2="644.20" stroke="#2e2e2e" stroke-width="1.4" />
<line x1="392.50" y1="641.70" x2="392.50" y2="644.20" stroke="#2e2e2e" stroke-width="1.4" />
<line x1="432.30" y1="641.70" x2="432.30" y2="644.20" stroke="#2e2e2e" stroke-width="1.4" />
<line x1="472.10" y1="641.70" x2="472.10" y2="644.20" stroke="#2e2e2e" stroke-width="1.4" />
<text x="414.00" y="518.30" font-size="14" text-anchor="middle" font-weight="normal" font-style="italic" fill="#000" >Ptcra</text>
<line x1="397.66" y1="519.80" x2="430.34" y2="519.80" stroke="#222" stroke-width="0.9" />
<rect x="360.80" y="561.57" width="12.00" height="80.13" fill="#000" stroke="#000" stroke-width="1"/>
<line x1="378.50" y1="591.00" x2="378.50" y2="578.75" stroke="#000" stroke-width="1.1" />
<line x1="377.00" y1="578.75" x2="380.00" y2="578.75" stroke="#000" stroke-width="1.1" />
<rect x="372.80" y="591.00" width="11.70" height="50.70" fill="#fff" stroke="#000" stroke-width="1"/>
<polygon points="377.30,567.80 378.06,569.30 379.73,569.56 378.54,570.75 378.80,572.41 377.30,571.65 375.80,572.41 376.06,570.75 374.87,569.56 376.54,569.30" fill="#000"/>
<polygon points="382.30,567.80 383.06,569.30 384.73,569.56 383.54,570.75 383.80,572.41 382.30,571.65 380.80,572.41 381.06,570.75 379.87,569.56 381.54,569.30" fill="#000"/>
<text x="372.60" y="657.80" font-size="13" text-anchor="middle" font-weight="normal" font-style="normal" fill="#000" >Ctrl</text>
<rect x="400.60" y="561.57" width="12.00" height="80.13" fill="#000" stroke="#000" stroke-width="1"/>
<line x1="418.50" y1="608.30" x2="418.50" y2="596.20" stroke="#000" stroke-width="1.1" />
<line x1="417.00" y1="596.20" x2="420.00" y2="596.20" stroke="#000" stroke-width="1.1" />
<rect x="412.60" y="608.30" width="11.70" height="33.40" fill="#fff" stroke="#000" stroke-width="1"/>
<polygon points="417.30,585.50 418.06,587.00 419.73,587.26 418.54,588.45 418.80,590.11 417.30,589.35 415.80,590.11 416.06,588.45 414.87,587.26 416.54,587.00" fill="#000"/>
<polygon points="422.30,585.50 423.06,587.00 424.73,587.26 423.54,588.45 423.80,590.11 422.30,589.35 420.80,590.11 421.06,588.45 419.87,587.26 421.54,587.00" fill="#000"/>
<text x="412.40" y="657.80" font-size="13" text-anchor="middle" font-weight="normal" font-style="normal" fill="#000" ><tspan font-style="italic">Lef1</tspan><tspan font-size="8" font-style="italic" dy="-4.5">-/-</tspan></text>
<rect x="440.40" y="561.57" width="12.00" height="80.13" fill="#000" stroke="#000" stroke-width="1"/>
<line x1="458.50" y1="569.90" x2="458.50" y2="563.30" stroke="#000" stroke-width="1.1" />
<line x1="457.00" y1="563.30" x2="460.00" y2="563.30" stroke="#000" stroke-width="1.1" />
<rect x="452.40" y="569.90" width="11.70" height="71.80" fill="#fff" stroke="#000" stroke-width="1"/>
<text x="452.20" y="657.80" font-size="13" text-anchor="middle" font-weight="normal" font-style="normal" fill="#000" ><tspan font-style="italic">Tcf7</tspan><tspan font-size="8" font-style="italic" dy="-4.5">-/-</tspan></text>
</svg>
</body></html>
